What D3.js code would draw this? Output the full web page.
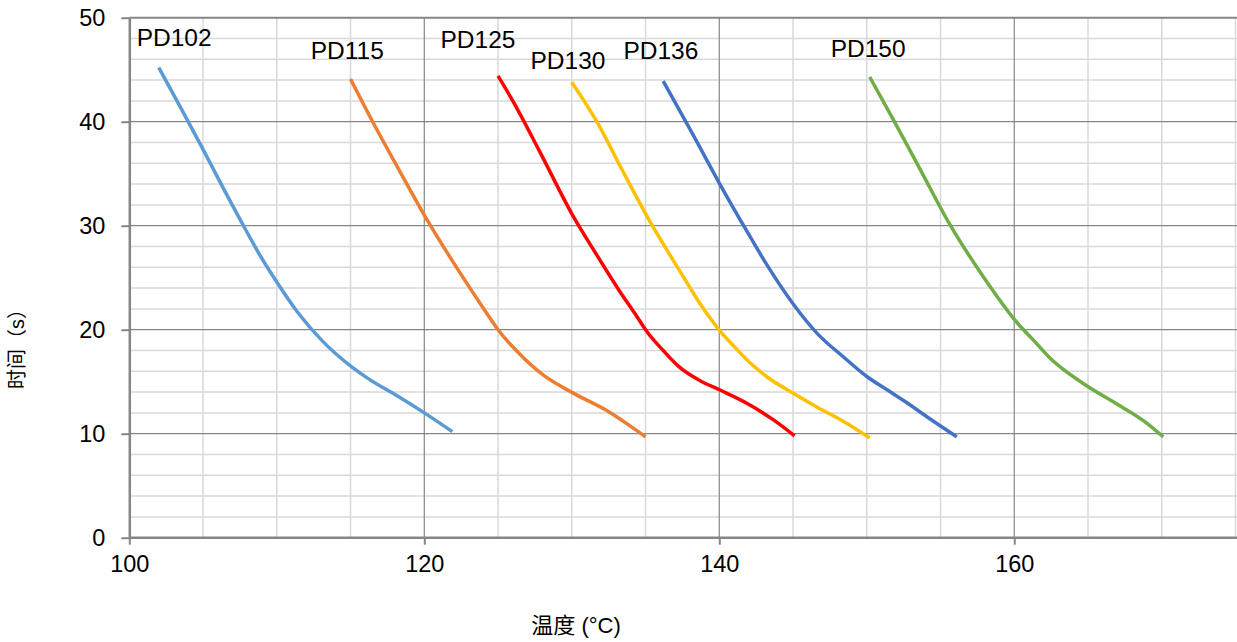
<!DOCTYPE html>
<html lang="zh">
<head>
<meta charset="UTF-8">
<title>时间-温度曲线</title>
<script src="https://d3js.org/d3.v7.min.js"></script>
<style>
  body { margin: 0; background: #fff; }
  svg text { font-family: "Liberation Sans", Arial, "Noto Sans CJK SC", sans-serif; fill: #000; }
  .cjk { font-family: "Liberation Sans", "Noto Sans CJK SC", sans-serif; }
</style>
</head>
<body>
<svg width="1237" height="642"></svg>
<script>
// series: [temperature °C, time s]
const pd102 = [[102.0,45.2],[103.5,41.3],[104.9,37.6],[106.3,33.8],[107.7,30.1],[108.8,27.3],[109.9,24.8],[111.4,21.7],[113.1,18.9],[115.1,16.4],[116.3,15.2],[118.1,13.7],[119.9,12.1],[121.9,10.2]];
const pd115 = [[115.0,44.1],[116.5,40.0],[118.35,35.2],[120.05,30.9],[122.0,26.4],[123.8,22.5],[125.0,20.0],[126.3,17.9],[128.1,15.6],[130.1,13.9],[132.4,12.2],[133.9,10.8],[135.0,9.7]];
const pd125 = [[125.0,44.4],[126.0,42.0],[127.8,37.2],[130.1,30.9],[131.6,27.4],[133.2,23.8],[134.4,21.3],[135.1,19.8],[136.2,18.0],[137.3,16.4],[138.7,15.1],[140.05,14.2],[141.9,12.9],[143.7,11.3],[145.1,9.8]];
const pd130 = [[130.0,43.8],[131.7,40.0],[133.4,35.4],[135.1,30.9],[137.3,25.7],[138.7,22.5],[140.1,19.8],[141.0,18.4],[142.1,16.8],[143.2,15.5],[145.25,13.7],[146.7,12.5],[148.4,11.2],[150.2,9.6]];
const pd136 = [[136.2,43.9],[138.2,38.8],[140.0,34.1],[141.9,29.4],[143.2,26.3],[145.1,22.3],[146.6,19.7],[148.4,17.4],[150.0,15.5],[151.4,14.2],[152.7,13.0],[154.1,11.6],[156.1,9.7]];
const pd150 = [[150.2,44.3],[151.8,40.2],[153.7,35.2],[155.6,30.2],[157.9,25.1],[160.3,20.5],[161.3,19.0],[162.4,17.3],[164.7,14.8],[166.9,12.9],[169.0,11.0],[170.1,9.7]];

const seriesNames = ["PD102", "PD115", "PD125", "PD130", "PD136", "PD150"];
const seriesData = [pd102, pd115, pd125, pd130, pd136, pd150];
// label anchor (left edge, baseline) in data units
const labelPos = [[100.5,47.3],[112.3,46.0],[121.1,47.1],[127.2,45.1],[133.5,46.0],[147.55,46.25]];

const xTicks = [100, 120, 140, 160];
const yTicks = [0, 10, 20, 30, 40, 50];

const palette = ["#5b9bd5", "#ed7d31", "#ff0000", "#ffc000", "#4472c4", "#70ad47"];

const svg = d3.select("svg");
const plotLeft = 129.3, plotRight = 1235.5, plotTop = 17.7, plotBottom = 537.7;

const x = d3.scaleLinear().domain([100, 175]).range([plotLeft, plotRight]);
const y = d3.scaleLinear().domain([0, 50]).range([plotBottom, plotTop]);

// minor grid
const grid = svg.append("g");
grid.selectAll(".vmin")
  .data(d3.range(105, 176, 5).filter(v => v % 20 !== 0))
  .enter().append("line")
  .attr("x1", d => x(d)).attr("x2", d => x(d))
  .attr("y1", plotTop).attr("y2", plotBottom)
  .attr("stroke", "#d9d9d9").attr("stroke-width", 1.5);
grid.selectAll(".hmin")
  .data(d3.range(2, 50, 2).filter(v => v % 10 !== 0))
  .enter().append("line")
  .attr("x1", plotLeft).attr("x2", 1237)
  .attr("y1", d => y(d)).attr("y2", d => y(d))
  .attr("stroke", "#d9d9d9").attr("stroke-width", 1.5);

// major grid
grid.selectAll(".vmaj")
  .data(xTicks.slice(1))
  .enter().append("line")
  .attr("x1", d => x(d)).attr("x2", d => x(d))
  .attr("y1", plotTop).attr("y2", plotBottom)
  .attr("stroke", "#868686").attr("stroke-width", 1.2);
grid.selectAll(".hmaj")
  .data(yTicks.slice(1))
  .enter().append("line")
  .attr("x1", plotLeft).attr("x2", 1237)
  .attr("y1", d => y(d)).attr("y2", d => y(d))
  .attr("stroke", "#868686").attr("stroke-width", d => d === 50 ? 2 : 1.2);

// axes
const xAxis = svg.append("g")
  .attr("transform", `translate(0,${plotBottom})`)
  .call(d3.axisBottom(x).tickValues(xTicks).tickSize(7).tickPadding(11).tickSizeOuter(0));
const yAxis = svg.append("g")
  .attr("transform", `translate(${plotLeft},0)`)
  .call(d3.axisLeft(y).tickValues(yTicks).tickSize(8).tickPadding(16).tickSizeOuter(0));

[xAxis, yAxis].forEach(a => {
  a.select(".domain").attr("stroke", "#868686").attr("stroke-width", 2.5);
  a.selectAll(".tick line").attr("stroke", "#868686").attr("stroke-width", 2);
  a.selectAll(".tick text").attr("font-size", 23.5).attr("fill", "#000")
    .attr("font-family", "Liberation Sans, Arial, sans-serif");
});
xAxis.select(".domain").attr("d", `M${plotLeft},0H1237`);

// lines
const line = d3.line().curve(d3.curveMonotoneX).x(d => x(d[0])).y(d => y(d[1]));
svg.append("g").selectAll("path")
  .data(seriesData)
  .enter().append("path")
  .attr("d", line)
  .attr("fill", "none")
  .attr("stroke", (d, i) => palette[i])
  .attr("stroke-width", 3.5)
  .attr("stroke-linejoin", "round");

// series labels
svg.append("g").selectAll("text")
  .data(seriesNames)
  .enter().append("text")
  .attr("x", (d, i) => x(labelPos[i][0]))
  .attr("y", (d, i) => y(labelPos[i][1]))
  .attr("font-size", 24.5)
  .text(d => d);

// titles
svg.append("text")
  .attr("class", "cjk")
  .attr("x", 576).attr("y", 633)
  .attr("text-anchor", "middle")
  .attr("font-size", 22)
  .text("温度 (°C)");

svg.append("text")
  .attr("class", "cjk")
  .attr("transform", "translate(24,344) rotate(-90)")
  .attr("text-anchor", "middle")
  .attr("font-size", 20)
  .text("时间（s）");
</script>
</body>
</html>
